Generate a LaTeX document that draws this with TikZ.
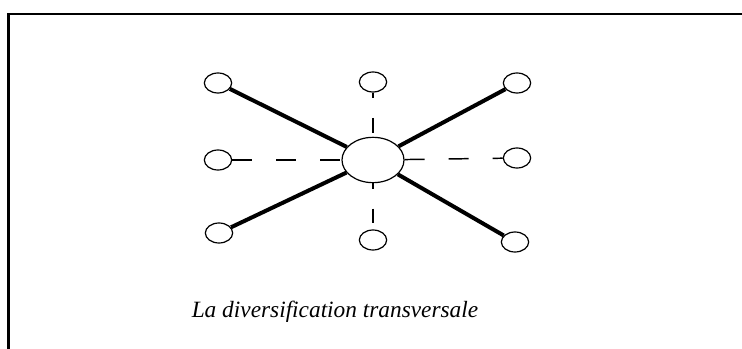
\documentclass[tikz,border=0pt]{standalone}
\usepackage{fontspec}
\setmainfont{Liberation Serif}
\usepackage{tikz}
\usetikzlibrary{shapes,positioning}

\begin{document}
\begin{tikzpicture}[
    x=0.75pt, y=-0.75pt,
    leaf/.style={ellipse, draw, line width=0.9pt, minimum width=20.5pt, minimum height=15pt, inner sep=0pt},
    hub/.style={ellipse, draw, line width=0.9pt, minimum width=46.5pt, minimum height=34pt, inner sep=0pt},
    strong/.style={line width=3pt},
    weak/.style={line width=1.1pt, dash pattern=on 15pt off 18pt},
    weakv/.style={line width=1.1pt, dash pattern=on 4pt off 15pt on 11pt off 20pt}
]
\useasboundingbox (0,0) rectangle (742,349);

% Frame
\draw[line width=1.6pt] (8.5,349) -- (8.5,14) -- (742,14);

% Centre
\node[hub] (centre) at (373,160) {};

% Outer nodes
\node[leaf] (nw) at (218,83) {};
\node[leaf] (n) at (373,82) {};
\node[leaf] (ne) at (517,83) {};
\node[leaf] (w) at (218,160) {};
\node[leaf] (e) at (517,158) {};
\node[leaf] (sw) at (219,233) {};
\node[leaf] (s) at (373,240) {};
\node[leaf] (se) at (515,242) {};

% Thick links
\draw[strong] (nw) -- (centre);
\draw[strong] (sw) -- (centre);
\draw[strong] (ne) -- (centre);
\draw[strong] (se) -- (centre);

% Dashed links
\draw[weak] (w) -- (centre);
\draw[weak] (centre) -- (e);
\draw[weakv] (n) -- (centre);
\draw[weakv] (centre) -- (s);

% Caption
\node[font=\fontsize{17.5}{21}\selectfont\itshape] (caption) at (335,312) {La diversification transversale};

\end{tikzpicture}
\end{document}
